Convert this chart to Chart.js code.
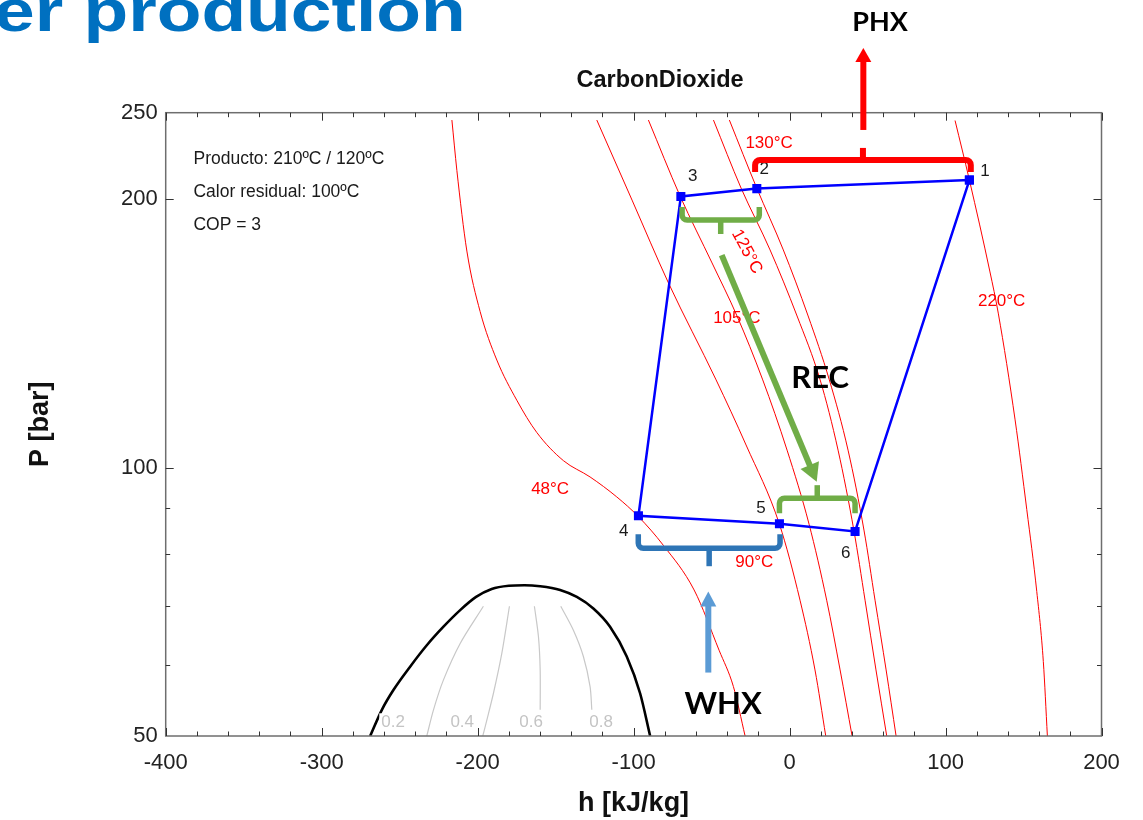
<!DOCTYPE html>
<html>
<head>
<meta charset="utf-8">
<script src="https://cdn.jsdelivr.net/npm/chart.js@4.4.1/dist/chart.umd.min.js"></script>
<style>
    html, body { margin: 0; padding: 0; background: #fff; overflow: hidden; }
    #wrap { position: relative; width: 1143px; height: 820px; }
    #phChart { position: absolute; left: 0; top: 0; }
    #slideTitle {
        position: absolute; right: 677px; top: -19px;
        font: bold 60px "Liberation Sans", Arial, sans-serif; line-height: 60px;
        color: #0070C0; white-space: nowrap;
        transform: scaleX(1.22); transform-origin: right center;
    }
</style>
</head>
<body>
<div id="wrap">
    <canvas id="phChart" width="1143" height="820"></canvas>
    <div id="slideTitle">er production</div>
</div>
<script>
// Axis ticks
const pTicks = [50, 60, 70, 80, 90, 100, 200, 250];
const pLabeled = [50, 100, 200, 250];

// Cycle states 1..6 (h in kJ/kg, P in bar), closed back to 1
const cycleH = [115.3, -21.0, -69.7, -96.9, -6.5, 42.0, 115.3];
const cycleP = [210.1, 205.5, 201.4, 88.3, 86.5, 84.8, 210.1];
const cycleNames = ['1', '2', '3', '4', '5', '6'];

// Isotherms
const t48H = [-216.5, -213.3, -206.9, -198.4, -187.7, -174.9, -162.1, -145.0, -127.9, -110.8, -96.9, -80.9, -61.2, -45.2, -36.0, -28.5];
const t48P = [245.3, 215.3, 174.9, 149.6, 132.0, 119.0, 109.5, 101.8, 97.6, 92.7, 88.1, 81.8, 72.9, 62.4, 56.8, 50];
const t90H = [-123.6, -101.0, -77.6, -47.1, -27.9, -6.5, 6.7, 16.3, 23.2];
const t90P = [245.3, 199.5, 161.0, 125.4, 106.0, 86.4, 71.0, 59.3, 50];
const t105H = [-90.5, -70.2, -49.7, -33.7, -17.2, -1.6, 12.5, 23.8, 32.4, 40.1];
const t105P = [245.3, 201.6, 169.6, 147.9, 125.4, 104.6, 86.4, 71.0, 59.3, 50];
const t125H = [-48.8, -31.1, -12.5, 4.8, 19.6, 31.1, 41.3, 48.4, 55.4, 62.3];
const t125P = [245.3, 205.8, 175.4, 147.9, 125.4, 104.6, 84.9, 71.0, 59.3, 50];
const t130H = [-38.6, -21.0, -4.0, 11.9, 25.5, 37.5, 47.8, 54.8, 61.9, 68.3];
const t130P = [245.3, 205.7, 175.4, 147.9, 125.4, 104.6, 84.9, 71.0, 59.3, 50];
const t220H = [106.1, 115.3, 128.5, 133.8, 144.6, 152.1, 158.5, 162.7, 165.3];
const t220P = [245.0, 210.1, 165.7, 149.0, 113.1, 89.7, 72.6, 60.6, 50];

// Saturation dome
const domeH = [-268.9, -261.4, -254.0, -243.3, -232.6, -221.9, -211.2, -201.0, -191.0, -180.0, -170.0, -159.9, -147.1, -136.4, -125.8, -115.1, -104.4, -95.8, -89.4];
const domeP = [50, 53.5, 56.3, 59.8, 63.2, 66.3, 69.2, 71.6, 73.1, 73.7, 73.8, 73.6, 72.9, 71.6, 69.5, 66.3, 61.4, 55.8, 50];

// Quality lines
const q02H = [-196.3, -211.2, -221.9, -228.3, -232.6];
const q02P = [69.9, 63.5, 57.8, 53.5, 50];
const q04H = [-179.6, -184.5, -189.9, -194.1, -196.7];
const q04P = [69.9, 61.9, 55.8, 52.1, 50];
const q06H = [-163.6, -161.0, -159.9, -159.9];
const q06P = [69.9, 64.6, 59.3, 53.5];
const q08H = [-146.7, -138.6, -132.2, -127.9, -126.8];
const q08P = [69.9, 65.7, 61.4, 56.8, 53.5];

const FONT = '"Liberation Sans", Arial, sans-serif';

function pts(hs, ps) {
    return hs.map((h, i) => ({ x: h, y: ps[i] }));
}

function curve(hs, ps, color, width, order, smooth) {
    const ds = {
        data: pts(hs, ps), showLine: true, borderColor: color, borderWidth: width,
        pointRadius: 0, order: order
    };
    if (smooth) ds.cubicInterpolationMode = 'monotone';
    else ds.tension = 0.3;
    return ds;
}

// Annotations, anchored in data units (h, P)
const notes = {
    info: { h: -382.2, lines: ['Producto: 210ºC / 120ºC', 'Calor residual: 100ºC', 'COP = 3'], p: [221.7, 203.8, 187.1] },
    pointLabels: { h: [125.3, -16.2, -62.1, -106.3, -18.3, 36.0], p: [215.1, 216.0, 212.3, 84.8, 90.0, 80.1] },
    isoLabels: [
        { t: '48°C', h: -153.5, p: 94.6, rot: 0 },
        { t: '90°C', h: -22.6, p: 78.3, rot: 0 },
        { t: '105°C', h: -33.8, p: 147.2, rot: 0 },
        { t: '125°C', h: -27.4, p: 174.6, rot: 62 },
        { t: '130°C', h: -13.1, p: 231.2, rot: 0 },
        { t: '220°C', h: 136.0, p: 153.8, rot: 0 }
    ],
    qualityLabels: [
        { t: '0.2', h: -254.2, p: 51.8 },
        { t: '0.4', h: -209.9, p: 51.8 },
        { t: '0.6', h: -165.7, p: 51.8 },
        { t: '0.8', h: -120.8, p: 51.8 }
    ],
    brackets: [
        { h1: -22.1, h2: 116.2, p: 221.3, leg: 12, stem: -12, color: '#ff0000', w: 6 },
        { h1: -68.9, h2: -19.4, p: 189.5, leg: -13, stem: 14, color: '#70ad47', w: 5.5 },
        { h1: -6.5, h2: 42.0, p: 92.4, leg: 15, stem: -13, color: '#70ad47', w: 5.5 },
        { h1: -97.0, h2: -6.1, p: 81.2, leg: -14, stem: 18, color: '#2e75b6', w: 5.5 }
    ],
    arrows: [
        { h0: 47.3, p0: 239.1, h1: 47.3, p1: 295.4, color: '#ff0000', w: 6, head: 14, half: 8 },
        { h0: -43.5, p0: 173.1, h1: 17.4, p1: 96.4, color: '#70ad47', w: 6, head: 18, half: 10 },
        { h0: -52.1, p0: 58.9, h1: -52.1, p1: 72.6, color: '#5b9bd5', w: 6, head: 15, half: 8 }
    ],
    bigLabels: [
        { t: 'PHX', h: 58.0, p: 315.9, size: 27 },
        { t: 'REC', h: 19.6, p: 126.0, size: 31 },
        { t: 'WHX', h: -42.6, p: 54.3, size: 31 }
    ],
    title: { t: 'CarbonDioxide', h: -83.0, p: 272.0 }
};

const annotationPlugin = {
    id: 'annotations',
    afterDatasetsDraw(chart) {
        const { ctx, chartArea: a, scales: { x: xs, y: ys } } = chart;
        const X = v => xs.getPixelForValue(v);
        const Y = v => ys.getPixelForValue(v);
        ctx.save();

        function seg(x0, y0, x1, y1) {
            ctx.beginPath(); ctx.moveTo(x0, y0); ctx.lineTo(x1, y1); ctx.stroke();
        }
        function text(t, x, y, font, color, align, rot) {
            ctx.save();
            ctx.translate(x, y);
            if (rot) ctx.rotate(rot * Math.PI / 180);
            ctx.font = font; ctx.fillStyle = color;
            ctx.textAlign = align || 'center'; ctx.textBaseline = 'middle';
            ctx.fillText(t, 0, 0);
            ctx.restore();
        }

        // frame and inward ticks
        ctx.strokeStyle = '#6e6e6e'; ctx.lineWidth = 1.5;
        ctx.strokeRect(a.left, a.top, a.right - a.left, a.bottom - a.top);
        ctx.strokeStyle = '#333'; ctx.lineWidth = 1;
        xs.ticks.forEach(t => {
            const px = Math.round(X(t.value)) + 0.5;
            const len = t.value % 100 === 0 ? 8 : 4.5;
            seg(px, a.bottom, px, a.bottom - len);
            seg(px, a.top, px, a.top + len);
        });
        ys.ticks.forEach(t => {
            if (t.value === 50 || t.value === 250) return;
            const py = Math.round(Y(t.value)) + 0.5;
            const len = pLabeled.includes(t.value) ? 8 : 4.5;
            seg(a.left, py, a.left + len, py);
            seg(a.right, py, a.right - len, py);
        });

        // quality labels (white backing breaks the dome line like the original)
        notes.qualityLabels.forEach(q => {
            ctx.font = '17px ' + FONT;
            const w = ctx.measureText(q.t).width;
            ctx.fillStyle = '#fff';
            ctx.fillRect(X(q.h) - w / 2 - 2, Y(q.p) - 9, w + 4, 18);
            text(q.t, X(q.h), Y(q.p), '17px ' + FONT, '#c4c4c4');
        });

        // isotherm labels
        notes.isoLabels.forEach(l => text(l.t, X(l.h), Y(l.p), '17px ' + FONT, '#ff0000', 'center', l.rot));

        // state numbers
        cycleNames.forEach((n, i) => text(n, X(notes.pointLabels.h[i]), Y(notes.pointLabels.p[i]), '17px ' + FONT, '#1a1a1a'));

        // info block
        notes.info.lines.forEach((s, i) => text(s, X(notes.info.h), Y(notes.info.p[i]), '17.5px ' + FONT, '#1a1a1a', 'left'));

        // brackets
        ctx.lineJoin = 'round'; ctx.lineCap = 'butt';
        notes.brackets.forEach(b => {
            const x1 = X(b.h1), x2 = X(b.h2), y = Y(b.p), xm = (x1 + x2) / 2, r = 5;
            ctx.strokeStyle = b.color; ctx.lineWidth = b.w;
            ctx.beginPath();
            ctx.moveTo(x1, y + b.leg);
            ctx.arcTo(x1, y, x2, y, r);
            ctx.arcTo(x2, y, x2, y + b.leg, r);
            ctx.lineTo(x2, y + b.leg);
            ctx.stroke();
            seg(xm, y, xm, y + b.stem);
        });

        // arrows
        notes.arrows.forEach(ar => {
            const x0 = X(ar.h0), y0 = Y(ar.p0), x1 = X(ar.h1), y1 = Y(ar.p1);
            const ang = Math.atan2(y1 - y0, x1 - x0);
            const c = Math.cos(ang), s = Math.sin(ang);
            const bx = x1 - ar.head * c, by = y1 - ar.head * s;
            ctx.strokeStyle = ar.color; ctx.fillStyle = ar.color; ctx.lineWidth = ar.w;
            seg(x0, y0, bx + c, by + s);
            ctx.beginPath();
            ctx.moveTo(x1, y1);
            ctx.lineTo(bx - ar.half * s, by + ar.half * c);
            ctx.lineTo(bx + ar.half * s, by - ar.half * c);
            ctx.closePath();
            ctx.fill();
        });

        // block labels
        notes.bigLabels.forEach(l => text(l.t, X(l.h), Y(l.p), 'bold ' + l.size + 'px Lato, ' + FONT, '#000'));

        // chart title
        text(notes.title.t, X(notes.title.h), Y(notes.title.p), 'bold 23.5px ' + FONT, '#111');

        ctx.restore();
    }
};

const ctx = document.getElementById('phChart').getContext('2d');
const phChart = new Chart(ctx, {
    type: 'scatter',
    data: {
        datasets: [
            {
                data: pts(cycleH, cycleP), showLine: true, borderColor: '#0000ff', borderWidth: 2.5,
                pointStyle: 'rect', pointRadius: 6.4, pointBackgroundColor: '#0000ff',
                pointBorderWidth: 0, tension: 0, order: 0
            },
            curve(domeH, domeP, '#000', 2.6, 1, true),
            curve(q02H, q02P, '#c8c8c8', 1.2, 2, false),
            curve(q04H, q04P, '#c8c8c8', 1.2, 2, false),
            curve(q06H, q06P, '#c8c8c8', 1.2, 2, false),
            curve(q08H, q08P, '#c8c8c8', 1.2, 2, false),
            curve(t48H, t48P, '#ff0000', 1, 3, true),
            curve(t90H, t90P, '#ff0000', 1, 3, true),
            curve(t105H, t105P, '#ff0000', 1, 3, true),
            curve(t125H, t125P, '#ff0000', 1, 3, true),
            curve(t130H, t130P, '#ff0000', 1, 3, true),
            curve(t220H, t220P, '#ff0000', 1, 3, true)
        ]
    },
    options: {
        responsive: false,
        animation: false,
        layout: { padding: { top: 112.7, right: 41.5, bottom: 0, left: 0 } },
        plugins: {
            legend: { display: false },
            tooltip: { enabled: false }
        },
        scales: {
            x: {
                type: 'linear', min: -400, max: 200,
                grid: { display: false }, border: { display: false },
                ticks: {
                    stepSize: 20, autoSkip: false, maxRotation: 0, padding: 6,
                    color: '#222', font: { size: 22, family: FONT },
                    callback: v => (v % 100 === 0 ? String(v) : '')
                },
                title: {
                    display: true, text: 'h [kJ/kg]', color: '#111',
                    font: { size: 27, weight: 'bold', family: FONT }, padding: { top: 0, bottom: 0 }
                },
                afterFit: scale => { scale.height = 84; }
            },
            y: {
                type: 'logarithmic', min: 50, max: 250,
                grid: { display: false }, border: { display: false },
                afterBuildTicks: scale => { scale.ticks = pTicks.map(v => ({ value: v })); },
                ticks: {
                    autoSkip: false, padding: 0, color: '#222', font: { size: 22, family: FONT },
                    callback: v => (pLabeled.includes(v) ? String(v) : '')
                },
                title: {
                    display: true, text: 'P [bar]', color: '#111',
                    font: { size: 27, weight: 'bold', family: FONT }, padding: { top: 24, bottom: 0 }
                },
                afterFit: scale => { scale.width = 165.7; }
            }
        }
    },
    plugins: [annotationPlugin]
});
</script>
</body>
</html>
